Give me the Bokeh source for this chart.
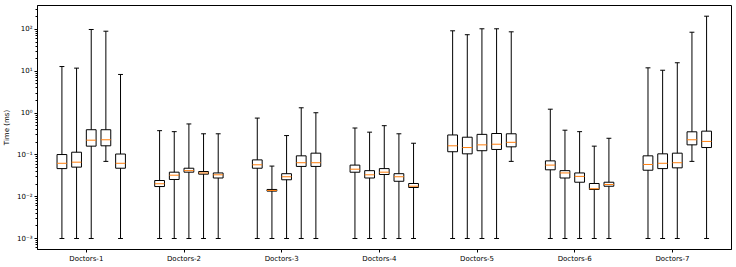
from bokeh.plotting import figure
from bokeh.models import FixedTicker, CustomJSTickFormatter, Range1d, ColumnDataSource, LogTicker
from bokeh.embed import file_html
from bokeh.resources import INLINE

groups = ["Doctors-1", "Doctors-2", "Doctors-3", "Doctors-4", "Doctors-5", "Doctors-6", "Doctors-7"]

whis_hi = [
    [13, 11.9, 100, 91, 8.4],
    [0.38, 0.36, 0.55, 0.32, 0.32],
    [0.76, 0.054, 0.29, 1.34, 1.02],
    [0.44, 0.35, 0.5, 0.32, 0.19],
    [93, 75, 104, 104, 88],
    [1.24, 0.39, 0.36, 0.162, 0.25],
    [12.1, 10.6, 16, 86, 208],
]
q3 = [
    [0.102, 0.116, 0.4, 0.4, 0.105],
    [0.0244, 0.0386, 0.048, 0.04, 0.037],
    [0.076, 0.0149, 0.0355, 0.095, 0.11],
    [0.057, 0.042, 0.047, 0.0355, 0.0207],
    [0.30, 0.265, 0.31, 0.325, 0.32],
    [0.072, 0.042, 0.037, 0.0207, 0.0222],
    [0.095, 0.106, 0.11, 0.357, 0.37],
]
median = [
    [0.063, 0.067, 0.225, 0.23, 0.063],
    [0.0204, 0.0327, 0.042, 0.037, 0.0334],
    [0.058, 0.0141, 0.030, 0.065, 0.065],
    [0.0455, 0.0334, 0.0386, 0.030, 0.0178],
    [0.165, 0.15, 0.174, 0.18, 0.2],
    [0.057, 0.037, 0.0306, 0.0155, 0.0196],
    [0.059, 0.063, 0.065, 0.23, 0.21],
]
q1 = [
    [0.047, 0.051, 0.162, 0.165, 0.048],
    [0.0175, 0.0258, 0.0386, 0.0346, 0.028],
    [0.048, 0.0136, 0.0254, 0.053, 0.053],
    [0.0385, 0.028, 0.034, 0.0234, 0.0166],
    [0.119, 0.106, 0.126, 0.135, 0.156],
    [0.044, 0.028, 0.0222, 0.0149, 0.0178],
    [0.043, 0.047, 0.049, 0.174, 0.15],
]
whis_lo = [
    [0.001, 0.001, 0.001, 0.07, 0.001],
    [0.001, 0.001, 0.001, 0.001, 0.001],
    [0.001, 0.001, 0.001, 0.001, 0.001],
    [0.001, 0.001, 0.001, 0.001, 0.001],
    [0.001, 0.001, 0.001, 0.001, 0.07],
    [0.001, 0.001, 0.001, 0.001, 0.001],
    [0.001, 0.001, 0.001, 0.07, 0.001],
]

offsets = [-0.25, -0.1, 0.05, 0.2, 0.35]
box_w = 0.1
cap_w = 0.05

xs, lo, a, m, b, hi = [], [], [], [], [], []
for gi in range(len(groups)):
    for j, off in enumerate(offsets):
        xs.append(gi + off)
        lo.append(whis_lo[gi][j]); a.append(q1[gi][j]); m.append(median[gi][j])
        b.append(q3[gi][j]); hi.append(whis_hi[gi][j])

src = ColumnDataSource(dict(
    x=xs, lo=lo, q1=a, med=m, q3=b, hi=hi,
    l=[x - box_w / 2 for x in xs], r=[x + box_w / 2 for x in xs],
    cl=[x - cap_w / 2 for x in xs], cr=[x + cap_w / 2 for x in xs],
))

p = figure(width=736, height=267, y_axis_type="log", output_backend="svg", toolbar_location=None,
           x_range=Range1d(-0.5, 6.605), y_range=Range1d(10 ** -3.263, 10 ** 2.574),
           min_border_left=37, min_border_right=5, min_border_top=5, min_border_bottom=18)

p.segment("x", "q3", "x", "hi", source=src, line_color="black", line_width=1)
p.segment("x", "lo", "x", "q1", source=src, line_color="black", line_width=1)
p.segment("cl", "hi", "cr", "hi", source=src, line_color="black", line_width=1)
p.segment("cl", "lo", "cr", "lo", source=src, line_color="black", line_width=1)
p.quad(left="l", right="r", bottom="q1", top="q3", source=src, fill_alpha=0,
       line_color="black", line_width=1)
p.segment("l", "med", "r", "med", source=src, line_color="#ff7f0e", line_width=1)

p.xgrid.visible = False
p.ygrid.visible = False
p.outline_line_color = "black"
p.outline_line_alpha = 1

p.xaxis.ticker = FixedTicker(ticks=list(range(len(groups))))
p.xaxis.major_label_overrides = {i: g for i, g in enumerate(groups)}
p.xaxis.minor_tick_line_color = None

p.yaxis.ticker = LogTicker(num_minor_ticks=10)
p.yaxis.formatter = CustomJSTickFormatter(code="""
const sup = {'-':'\u207b','0':'\u2070','1':'\u00b9','2':'\u00b2','3':'\u00b3','4':'\u2074','5':'\u2075','6':'\u2076','7':'\u2077','8':'\u2078','9':'\u2079'};
const e = Math.round(Math.log10(tick));
return '10' + String(e).split('').map(c => sup[c]).join('');
""")
p.yaxis.axis_label = "Time (ms)"

for ax in [p.xaxis[0], p.yaxis[0]]:
    ax.major_label_text_font = "DejaVu Sans"
    ax.major_label_text_font_size = "7px"
    ax.major_label_text_color = "black"
    ax.axis_label_text_font = "DejaVu Sans"
    ax.axis_label_text_font_size = "7px"
    ax.axis_label_text_font_style = "normal"
    ax.axis_label_text_color = "black"
    ax.axis_line_color = "black"
    ax.major_tick_line_color = "black"
    ax.major_tick_out = 3
    ax.major_tick_in = 0
    ax.minor_tick_out = 2
    ax.minor_tick_in = 0
    ax.major_label_standoff = 2
p.yaxis.axis_label_standoff = 3
p.yaxis.minor_tick_line_color = "black"

open("out.html", "w").write(file_html(p, INLINE))
